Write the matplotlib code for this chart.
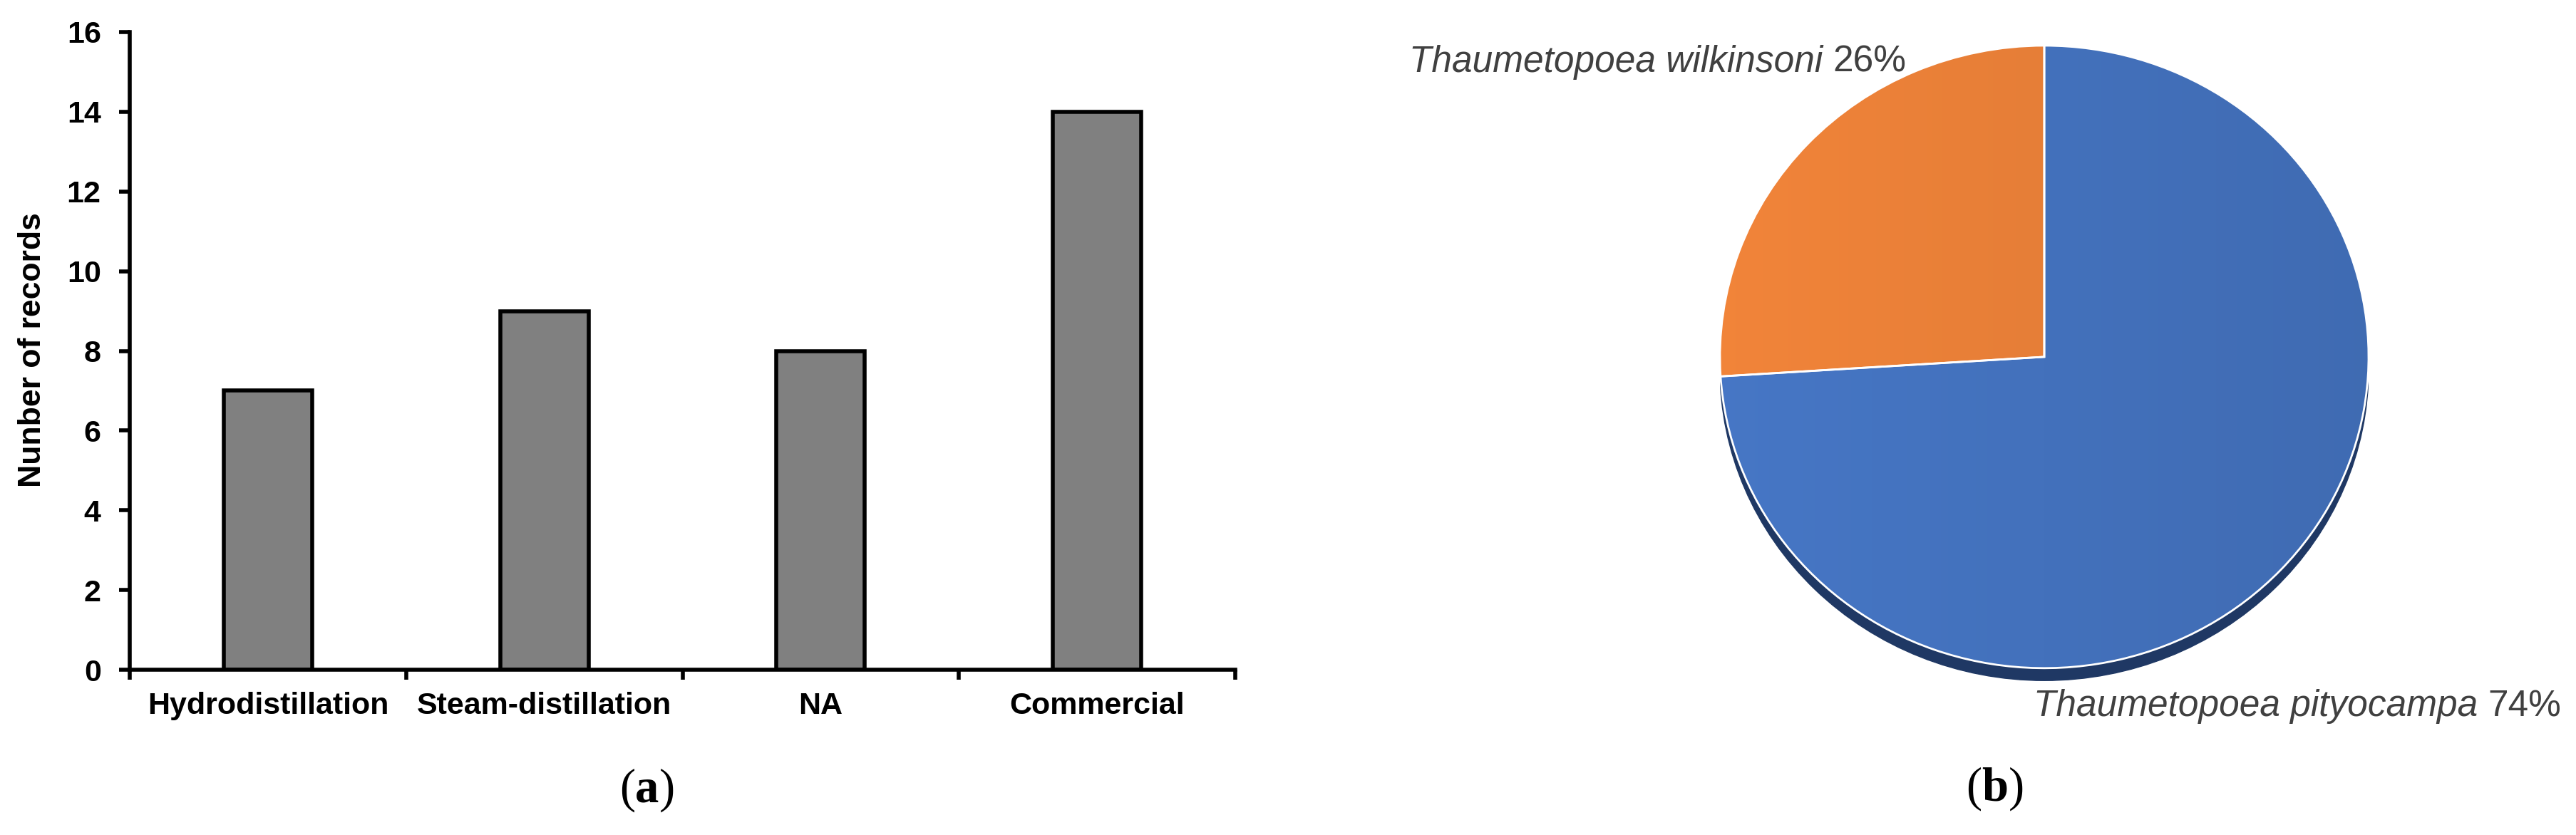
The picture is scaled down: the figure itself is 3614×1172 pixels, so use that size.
import matplotlib
matplotlib.use("Agg")
import numpy as np
import matplotlib.pyplot as plt
from matplotlib.colors import to_rgb
from matplotlib.patches import Ellipse
from matplotlib.offsetbox import TextArea, HPacker, AnnotationBbox

# data
methods = ["Hydrodistillation", "Steam-distillation", "NA", "Commercial"]
records = [7, 9, 8, 14]
y_ticks = [0, 2, 4, 6, 8, 10, 12, 14, 16]

species = ["Thaumetopoea wilkinsoni", "Thaumetopoea pityocampa"]
shares = [26, 74]
pie_colors = ["#E67E37", "#4371BC"]

plt.rcParams["font.family"] = "Liberation Sans"

W, H = 3614, 1172
fig = plt.figure(figsize=(W / 100, H / 100), dpi=100)


def caption(letter, xc, yc):
    serif = dict(family="Liberation Serif", size=48, color="black")
    parts = [TextArea("(", textprops=serif),
             TextArea(letter, textprops=dict(serif, weight="bold")),
             TextArea(")", textprops=serif)]
    box = HPacker(children=parts, pad=0, sep=0, align="baseline")
    ab = AnnotationBbox(box, (xc / W, 1 - yc / H), xycoords="figure fraction",
                        frameon=False, box_alignment=(0.5, 0.5))
    fig.add_artist(ab)


def pie_label(name, pct, x0, yc):
    txt = dict(size=37, color="#404040")
    parts = [TextArea(name + " ", textprops=dict(txt, style="italic")),
             TextArea("%d%%" % pct, textprops=txt)]
    box = HPacker(children=parts, pad=0, sep=0, align="baseline")
    ab = AnnotationBbox(box, (x0 / W, 1 - yc / H), xycoords="figure fraction",
                        frameon=False, box_alignment=(0, 0.5))
    fig.add_artist(ab)


# (a) bar chart
ax = fig.add_axes([182 / W, 1 - 940 / H, (1733 - 182) / W, (940 - 45) / H])
x = list(range(len(methods)))
ax.bar(x, records, width=0.32, color="#808080", edgecolor="black", linewidth=4)
ax.set_xlim(-0.5, len(methods) - 0.5)
ax.set_ylim(0, 16)
ax.set_yticks(y_ticks)
ax.set_xticks([i - 0.5 for i in range(len(methods) + 1)])
ax.set_xticklabels([])
ax.set_xticks(x, minor=True)
ax.set_xticklabels(methods, minor=True)
ax.tick_params(axis="x", which="major", direction="out", length=10, width=4)
ax.tick_params(axis="x", which="minor", length=0, pad=22, labelsize=31)
ax.tick_params(axis="y", direction="out", length=11, width=4, pad=18, labelsize=31)
for s in ["top", "right"]:
    ax.spines[s].set_visible(False)
for s in ["left", "bottom"]:
    ax.spines[s].set_linewidth(4)
for lab in ax.get_xticklabels(minor=True) + ax.get_yticklabels():
    lab.set_fontweight("bold")
fig.text(46 / W, 1 - 491 / H, "Nunber of records", rotation=90,
         ha="center", va="center", fontsize=32, fontweight="bold")
caption("a", 908, 1109)

# (b) pie chart, squashed into an ellipse
pax = fig.add_axes([2413 / W, 1 - 964 / H, 910 / W, (964 - 64) / H])
wedges, _ = pax.pie(shares, colors=pie_colors, startangle=90, counterclock=True,
                    wedgeprops=dict(edgecolor="white", linewidth=2))
pax.add_patch(Ellipse((0, -0.04), 2.0, 2.0, color="#1F3864", zorder=0))

# light-to-dark horizontal shading like the office-style chart
ramp = np.linspace(0, 1, 256)[None, :, None]
for w, c in zip(wedges, pie_colors):
    base = np.array(to_rgb(c))
    light = np.clip(base * 1.05, 0, 1)
    dark = base * 0.95
    img = light * (1 - ramp) + dark * ramp
    im = pax.imshow(img, extent=(-1, 1, -1, 1), aspect="auto",
                    interpolation="bilinear", zorder=1.5)
    im.set_clip_path(w)
    w.set_facecolor("none")
    w.set_zorder(2)

pax.set_aspect("auto")
pax.set_xlim(-1.0, 1.0)
pax.set_ylim(-1.06, 1.0)
pax.axis("off")

pie_label(species[0], shares[0], 1977, 87)
pie_label(species[1], shares[1], 2853, 992)
caption("b", 2799, 1107)

fig.savefig("out.png", dpi=100, facecolor="white")
